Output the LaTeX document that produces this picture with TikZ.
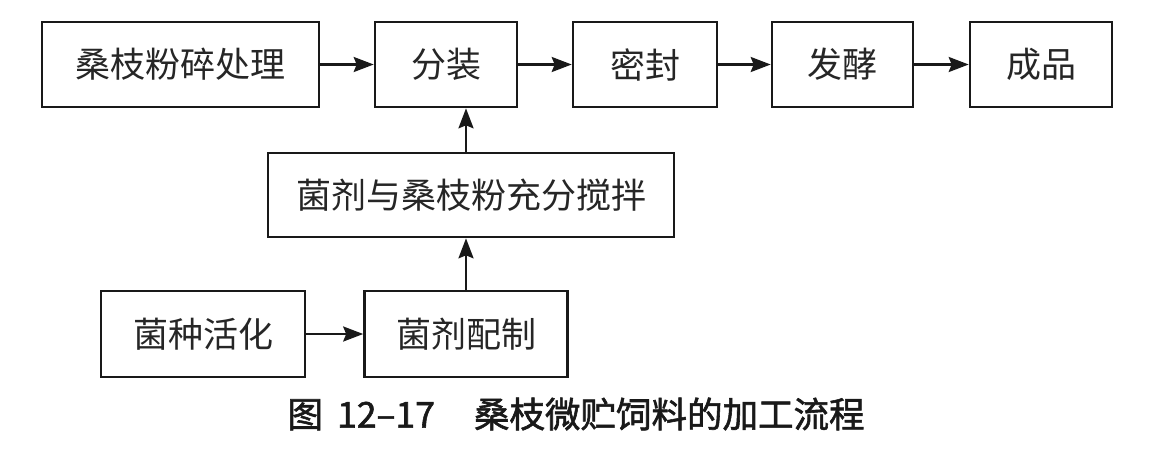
\documentclass[tikz,border=0pt]{standalone}
\usepackage{fontspec}
\newfontfamily\cjk{Noto Sans CJK SC}
\newfontfamily\capfont{Noto Sans CJK SC}[FakeBold=1.6]
\usetikzlibrary{arrows.meta}
\tikzset{
  box/.style={draw=black!90, line width=2.6pt, fill=white, inner sep=0pt,
    font=\cjk\fontsize{35}{40}\selectfont, text=black!85},
  arr/.style={line width=2.5pt, draw=black!90, -{Stealth[length=20pt,width=15pt,inset=3pt]}},
  captext/.style={font=\capfont\fontsize{35.5}{40}\selectfont, text=black!90}
}
\begin{document}
\begin{tikzpicture}[x=1pt,y=-1pt]
\useasboundingbox[fill=white] (0,0) rectangle (1158,456);
\node[box, minimum width=277pt, minimum height=85pt] (n1) at (180.5,64.5) {桑枝粉碎处理};
\node[box, minimum width=142pt, minimum height=85pt] (n2) at (446,64.5) {分装};
\node[box, minimum width=144pt, minimum height=85pt] (n3) at (645,64.5) {密封};
\node[box, minimum width=141pt, minimum height=85pt] (n4) at (842.5,64.5) {发酵};
\node[box, minimum width=142pt, minimum height=85pt] (n5) at (1041,64.5) {成品};
\node[box, minimum width=406pt, minimum height=84pt] (n6) at (471,195) {菌剂与桑枝粉充分搅拌};
\node[box, minimum width=204pt, minimum height=86pt] (n7) at (203,334) {菌种活化};
\node[box, minimum width=203pt, minimum height=86pt] (n8) at (466,334) {菌剂配制};
\draw[arr] (n1) -- (n2);
\draw[arr] (n2) -- (n3);
\draw[arr] (n3) -- (n4);
\draw[arr] (n4) -- (n5);
\draw[arr] (n7) -- (n8);
\draw[arr] (n8.north) -- (n8.north |- n6.south);
\draw[arr] (n8.north |- n6.north) -- (n8.north |- n2.south);
\node[captext] (caption) at (576,414) {图\hspace{0.4em}12–17\hspace{1.1em}桑枝微贮饲料的加工流程};
\end{tikzpicture}
\end{document}
